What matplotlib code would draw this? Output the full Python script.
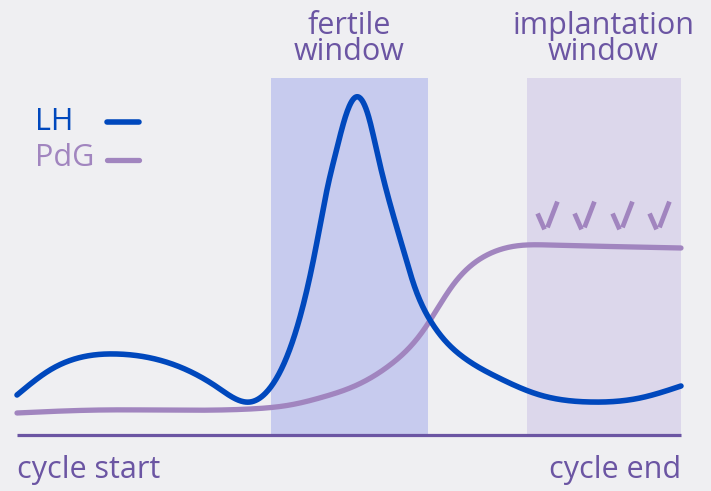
import numpy as np
import matplotlib
matplotlib.use("Agg")
from matplotlib import pyplot as plt
from matplotlib.path import Path

# ---------------- data (x = % of cycle, y = relative hormone level) ----------------
lh_x = [0, 4.97, 15.06, 24.55, 30.12, 35.09, 38.10, 41.57, 43.22, 44.88, 46.84, 48.04,
        49.40, 51.05, 53.01, 54.22, 55.42, 56.78, 58.28, 59.79, 62.20, 67.17, 72.29,
        78.77, 86.30, 93.83, 100]
lh_y = [11.14, 18.11, 22.56, 18.94, 13.37, 9.19, 13.09, 26.46, 37.05, 50.97, 69.64, 78.83,
        88.30, 94.15, 88.30, 78.83, 69.64, 60.45, 50.97, 41.78, 32.03, 21.73, 16.16,
        11.14, 9.19, 10.31, 13.65]

pdg_x = [0, 12.50, 35.09, 41.11, 46.08, 51.20, 56.17, 61.14, 65.66, 70.78, 75.75, 80.27, 100]
pdg_y = [6.13, 6.96, 7.24, 8.36, 10.58, 13.93, 19.50, 28.97, 41.78, 50.14, 52.79, 52.92, 52.09]

fertile_window = (38.3, 61.9)
implant_window = (76.8, 100)
check_x = [79.8, 85.4, 91.1, 96.7]
check_y = 61.3

# ---------------- colours ----------------
BG = "#efeff2"
LH_C = "#0048bd"
PDG_C = "#a185bf"
TXT = "#6b55a3"
FERT_C = "#c7cbee"
IMPL_C = "#dcd7eb"

plt.rcParams['font.family'] = ['Open Sans', 'DejaVu Sans']


def spline(x, y, xs):
    # natural cubic spline through the read points
    x = np.asarray(x, float)
    y = np.asarray(y, float)
    n = len(x)
    h = np.diff(x)
    A = np.zeros((n, n))
    b = np.zeros(n)
    A[0, 0] = A[-1, -1] = 1
    for i in range(1, n - 1):
        A[i, i - 1] = h[i - 1]
        A[i, i] = 2 * (h[i - 1] + h[i])
        A[i, i + 1] = h[i]
        b[i] = 6 * ((y[i + 1] - y[i]) / h[i] - (y[i] - y[i - 1]) / h[i - 1])
    M = np.linalg.solve(A, b)
    idx = np.clip(np.searchsorted(x, xs) - 1, 0, n - 2)
    x0, x1 = x[idx], x[idx + 1]
    hh = h[idx]
    return (M[idx] * (x1 - xs) ** 3 / (6 * hh) + M[idx + 1] * (xs - x0) ** 3 / (6 * hh)
            + (y[idx] / hh - M[idx] * hh / 6) * (x1 - xs)
            + (y[idx + 1] / hh - M[idx + 1] * hh / 6) * (xs - x0))


xs = np.linspace(0, 100, 1000)

fig = plt.figure(figsize=(7.11, 4.91), dpi=100, facecolor=BG)
ax = fig.add_axes([0, 0, 1, 1])
ax.set_facecolor(BG)
ax.set_xlim(-2.56, 104.52)
ax.set_ylim(-15.6, 121.17)
ax.axis('off')

# windows
span_lo = (0 + 15.6) / 136.77
span_hi = (99.4 + 15.6) / 136.77
ax.axvspan(*fertile_window, ymin=span_lo, ymax=span_hi, color=FERT_C, lw=0)
ax.axvspan(*implant_window, ymin=span_lo, ymax=span_hi, color=IMPL_C, lw=0)

# baseline
ax.plot([0, 100], [0, 0], color=TXT, lw=2.3, solid_capstyle='butt')

# curves
ax.plot(xs, spline(pdg_x, pdg_y, xs), color=PDG_C, lw=3.8, solid_capstyle='round')
ax.plot(xs, spline(lh_x, lh_y, xs), color=LH_C, lw=4.0, solid_capstyle='round')

# check marks
check = Path([(-10, 2), (-3, -14), (0, -12), (10, 14)],
             [Path.MOVETO, Path.LINETO, Path.MOVETO, Path.LINETO])
ax.plot(check_x, [check_y] * len(check_x), ls='none', marker=check, ms=20,
        mec=PDG_C, mfc='none', mew=3.4)

# legend
ax.text(2.7, 87.2, "LH", color=LH_C, fontsize=22, va='center', ha='left')
ax.text(2.7, 77.2, "PdG", color=PDG_C, fontsize=22, va='center', ha='left')
ax.plot([13.6, 18.3], [87.2, 87.2], color=LH_C, lw=4.0, solid_capstyle='round')
ax.plot([13.6, 18.3], [76.6, 76.6], color=PDG_C, lw=3.8, solid_capstyle='round')

# titles
ax.text(50.0, 110.3, "fertile\nwindow", color=TXT, fontsize=22, ha='center', va='center',
        linespacing=0.85)
ax.text(88.3, 110.3, "implantation\nwindow", color=TXT, fontsize=22, ha='center', va='center',
        linespacing=0.85)

ax.text(0, -9.75, "cycle start", color=TXT, fontsize=22, ha='left', va='center')
ax.text(100, -9.75, "cycle end", color=TXT, fontsize=22, ha='right', va='center')

fig.savefig("out.png", dpi=100, facecolor=BG)
